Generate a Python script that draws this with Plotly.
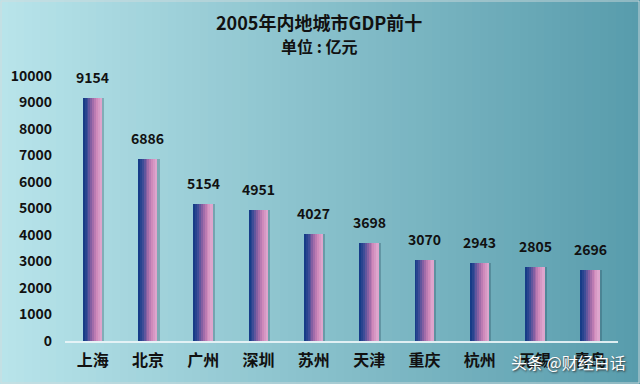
import plotly.graph_objects as go

categories = ["上海", "北京", "广州", "深圳", "苏州", "天津", "重庆", "杭州", "无锡", "青岛"]
gdp = [9154, 6886, 5154, 4951, 4027, 3698, 3070, 2943, 2805, 2696]
y_ticks = [0, 1000, 2000, 3000, 4000, 5000, 6000, 7000, 8000, 9000, 10000]

W, H = 640, 384
ML, MR, MT, MB = 65, 22, 76, 43
PW, PH = W - ML - MR, H - MT - MB

def lerp(c1, c2, t):
    return tuple(int(round(a + (b - a) * t)) for a, b in zip(c1, c2))

def rgb(c):
    return "rgb(%d,%d,%d)" % c

fig = go.Figure()

# bar shadow
fig.add_trace(go.Bar(x=categories, y=gdp, width=0.34, offset=-0.13,
                     marker=dict(color="rgba(30,60,80,0.28)", line=dict(width=0)),
                     hoverinfo="skip", showlegend=False))

# gradient bars made of slices
stops = [(0.0, (22, 60, 135)), (0.2, (55, 75, 150)), (0.5, (150, 100, 165)),
         (0.75, (205, 135, 185)), (1.0, (222, 165, 205))]
def grad(t):
    for (t0, c0), (t1, c1) in zip(stops[:-1], stops[1:]):
        if t <= t1:
            return lerp(c0, c1, (t - t0) / (t1 - t0))
    return stops[-1][1]

n = 10
bw = 0.34
sw = bw / n
for i in range(n):
    fig.add_trace(go.Bar(x=categories, y=gdp, width=sw * 1.05, offset=-bw / 2 + i * sw,
                         marker=dict(color=rgb(grad(i / (n - 1))), line=dict(width=0)),
                         hoverinfo="skip", showlegend=False))

annotations = []
for c, v in zip(categories, gdp):
    annotations.append(dict(x=c, y=v, xref="x", yref="y", text=str(v), showarrow=False,
                            xanchor="center", yanchor="bottom", yshift=9,
                            font=dict(size=14, color="#111111", weight="bold")))

# background gradient shapes
shapes = []
left, right = (184, 228, 234), (88, 156, 172)
steps = 80
for i in range(steps):
    x0 = -ML / PW + (W / PW) * i / steps
    x1 = -ML / PW + (W / PW) * (i + 1.05) / steps
    shapes.append(dict(type="rect", xref="paper", yref="paper", x0=x0, x1=x1,
                       y0=-MB / PH, y1=1 + MT / PH, line=dict(width=0),
                       fillcolor=rgb(lerp(left, right, i / (steps - 1))), layer="below"))
shapes.append(dict(type="rect", xref="paper", yref="paper", x0=-ML / PW + 1 / PW, x1=1 + MR / PW - 1 / PW,
                   y0=-MB / PH + 1 / PH, y1=1 + MT / PH - 1 / PH,
                   line=dict(width=1, color="rgba(210,220,222,0.9)"), layer="above"))

annotations += [
    dict(text="2005年内地城市GDP前十", xref="paper", yref="paper", x=(319 - ML) / PW,
         y=1 + (MT - 22) / PH, showarrow=False, xanchor="center", yanchor="middle",
         font=dict(size=18, weight="bold", color="#111111")),
    dict(text="单位 : 亿元", xref="paper", yref="paper", x=(319 - ML) / PW,
         y=1 + (MT - 46) / PH, showarrow=False, xanchor="center", yanchor="middle",
         font=dict(size=16, weight="bold", color="#111111")),
    dict(text="头条 @财经白话", xref="paper", yref="paper", x=1 + (MR - 12) / PW,
         y=-(362 - (H - MB)) / PH, showarrow=False, xanchor="right", yanchor="middle",
         font=dict(size=16, color="white", shadow="1px 1px 2px #333333")),
]

fig.update_layout(
    width=W, height=H,
    margin=dict(l=ML, r=MR, t=MT, b=MB),
    paper_bgcolor="rgb(150,200,210)", plot_bgcolor="rgba(0,0,0,0)",
    barmode="overlay", bargap=0,
    shapes=shapes,
    annotations=annotations,
    font=dict(family="Noto Sans CJK SC", color="#111111"),
    xaxis=dict(type="category", range=[-0.5, 9.5], showline=True, linecolor="rgba(235,245,248,0.9)",
               linewidth=1.5, ticks="", showgrid=False, zeroline=False, ticklabelstandoff=4,
               tickfont=dict(size=16, weight="bold", color="#111111")),
    yaxis=dict(range=[0, 10000], tickvals=y_ticks, ticktext=[str(v) for v in y_ticks],
               showgrid=False, zeroline=False, showline=False, ticks="", ticklabelstandoff=12,
               tickfont=dict(size=14, weight="bold", color="#111111")),
)

fig.write_html("out.html", config={"displayModeBar": False},
               post_script="document.body.style.margin='0';")
